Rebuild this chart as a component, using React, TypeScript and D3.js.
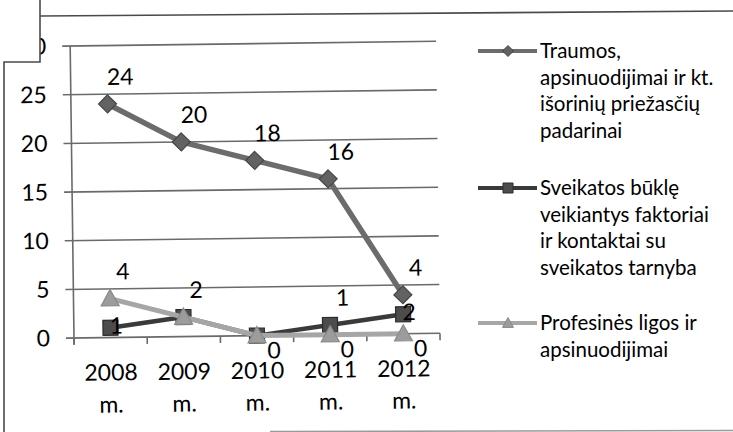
import React, { useEffect, useRef } from "react";
import * as d3 from "d3";

const years = ["2008", "2009", "2010", "2011", "2012"];
const traumos = [24, 20, 18, 16, 4];
const sveikatos = [1, 2, 0, 1, 2];
const profesines = [4, 2, 0, 0, 0];
const yTicks = [0, 5, 10, 15, 20, 25, 30];

const traumosName = ["Traumos,", "apsinuodijimai ir kt.", "išorinių priežasčių", "padarinai"];
const sveikatosName = ["Sveikatos būklę", "veikiantys faktoriai", "ir kontaktai su", "sveikatos tarnyba"];
const profesinesName = ["Profesinės ligos ir", "apsinuodijimai"];

// where each data label sits next to its point ("" = hidden behind another label)
const traumosLabelPos = ["above", "above", "above", "above", "above"];
const sveikatosLabelPos = ["center", "", "", "above", "center"];
const profesinesLabelPos = ["above", "above", "below", "below", "below"];

const FONT = "Lato, 'Open Sans', sans-serif";

function markerPath(kind: string, r: number) {
  if (kind === "diamond") return `M0,${-r}L${r},0L0,${r}L${-r},0Z`;
  if (kind === "square") return `M${-r},${-r}H${r}V${r}H${-r}Z`;
  return `M0,${-r}L${r},${r * 0.8}H${-r}Z`;
}

export default function App() {
  const svgRef = useRef<SVGSVGElement>(null);

  useEffect(() => {
    const width = 733;
    const height = 432;
    const svg = d3.select(svgRef.current);
    svg.selectAll("*").remove();
    svg.attr("viewBox", `0 0 ${width} ${height}`);

    const series = [
      { name: traumosName, values: traumos, labels: traumosLabelPos, line: "#6c6c6c", fill: "#626262", stroke: "#454545", marker: "diamond", lw: 5.5 },
      { name: sveikatosName, values: sveikatos, labels: sveikatosLabelPos, line: "#3a3a3a", fill: "#4c4c4c", stroke: "#2c2c2c", marker: "square", lw: 4.5 },
      { name: profesinesName, values: profesines, labels: profesinesLabelPos, line: "#a6a6a6", fill: "#9c9c9c", stroke: "#8a8a8a", marker: "triangle", lw: 5 },
    ];

    const x = d3.scaleBand().domain(years).range([74, 440]);
    const y = d3.scaleLinear().domain([0, 30]).range([338, 46]);
    const cx = (i: number) => (x(years[i]) as number) + x.bandwidth() / 2;

    // whole plot is a little tilted, like the scan
    const g = svg.append("g").attr("transform", "rotate(-0.75, 74, 338)");

    // gridlines + left ticks
    g.selectAll(".grid")
      .data(yTicks)
      .enter()
      .append("line")
      .attr("x1", 66)
      .attr("x2", 440)
      .attr("y1", (d) => y(d))
      .attr("y2", (d) => y(d))
      .attr("stroke", "#6a6a6a")
      .attr("stroke-width", 1.6);

    // y axis line
    g.append("line")
      .attr("x1", 74).attr("x2", 74)
      .attr("y1", y(30)).attr("y2", y(0) + 6)
      .attr("stroke", "#6a6a6a").attr("stroke-width", 1.6);

    // x ticks at category borders
    const borders = years.map((yr) => x(yr) as number).concat([x.range()[1]]);
    g.selectAll(".xtick")
      .data(borders)
      .enter()
      .append("line")
      .attr("x1", (d) => d).attr("x2", (d) => d)
      .attr("y1", y(0)).attr("y2", y(0) + 7)
      .attr("stroke", "#6a6a6a").attr("stroke-width", 1.6);

    // y labels
    g.selectAll(".ylab")
      .data(yTicks)
      .enter()
      .append("text")
      .attr("x", 50)
      .attr("y", (d) => y(d) + 8)
      .attr("text-anchor", "end")
      .attr("font-family", FONT)
      .attr("font-size", 23)
      .attr("fill", "#000")
      .text((d) => d);

    // x labels: year + "m."
    years.forEach((yr, i) => {
      const t = g.append("text")
        .attr("text-anchor", "middle")
        .attr("font-family", FONT)
        .attr("font-size", 23)
        .attr("fill", "#000");
      t.append("tspan").attr("x", cx(i)).attr("y", 381).text(yr);
      t.append("tspan").attr("x", cx(i)).attr("y", 413).text("m.");
    });

    // lines and markers
    series.forEach((s) => {
      const line = d3.line<number>()
        .x((_, i) => cx(i))
        .y((d) => y(d));
      g.append("path")
        .attr("d", line(s.values))
        .attr("fill", "none")
        .attr("stroke", s.line)
        .attr("stroke-width", s.lw)
        .attr("stroke-linejoin", "round");
      g.selectAll(null)
        .data(s.values)
        .enter()
        .append("path")
        .attr("transform", (d, i) => `translate(${cx(i)},${y(d)})`)
        .attr("d", markerPath(s.marker, s.marker === "square" ? 7.5 : 9))
        .attr("fill", s.fill)
        .attr("stroke", s.stroke)
        .attr("stroke-width", 1.2);
    });

    // data labels
    const offsets: Record<string, [number, number]> = {
      above: [13, -19],
      center: [6, 6],
      below: [17, 23],
    };
    series.forEach((s) => {
      s.values.forEach((v, i) => {
        const pos = s.labels[i];
        if (!pos) return;
        const [dx, dy] = offsets[pos];
        g.append("text")
          .attr("x", cx(i) + dx)
          .attr("y", y(v) + dy)
          .attr("text-anchor", "middle")
          .attr("font-family", FONT)
          .attr("font-size", 23)
          .attr("fill", "#000")
          .text(v);
      });
    });

    // cropped corner of the scan hides part of the "30" label
    svg.append("rect").attr("x", 0).attr("y", 0).attr("width", 40).attr("height", 62).attr("fill", "#fff");

    // frame lines from the scan
    const frame = svg.append("g").attr("stroke", "#4a4a4a").attr("stroke-width", 1.6).attr("fill", "none");
    frame.append("path").attr("d", "M40,0V62H4V432");
    frame.append("line").attr("x1", 40).attr("y1", 16).attr("x2", 733).attr("y2", 11);
    frame.append("line").attr("x1", 270).attr("y1", 431.5).attr("x2", 733).attr("y2", 430.5).attr("stroke", "#9a9a9a");

    // legend
    const legendY = [51, 188, 323];
    series.forEach((s, k) => {
      const ly = legendY[k];
      svg.append("line")
        .attr("x1", 478).attr("x2", 537)
        .attr("y1", ly).attr("y2", ly)
        .attr("stroke", s.line).attr("stroke-width", 4);
      svg.append("path")
        .attr("transform", `translate(508,${ly})`)
        .attr("d", markerPath(s.marker, s.marker === "square" ? 5 : 5.5))
        .attr("fill", s.fill)
        .attr("stroke", s.stroke)
        .attr("stroke-width", 1);
      const t = svg.append("text")
        .attr("font-family", FONT)
        .attr("font-size", 20.5)
        .attr("fill", "#000");
      s.name.forEach((ln, j) => {
        t.append("tspan").attr("x", 540).attr("y", ly + 7 + j * 26.7).text(ln);
      });
    });
  }, []);

  return (
    <svg
      ref={svgRef}
      width={733}
      height={432}
      style={{ position: "absolute", left: 0, top: 0, background: "#fff" }}
    />
  );
}
